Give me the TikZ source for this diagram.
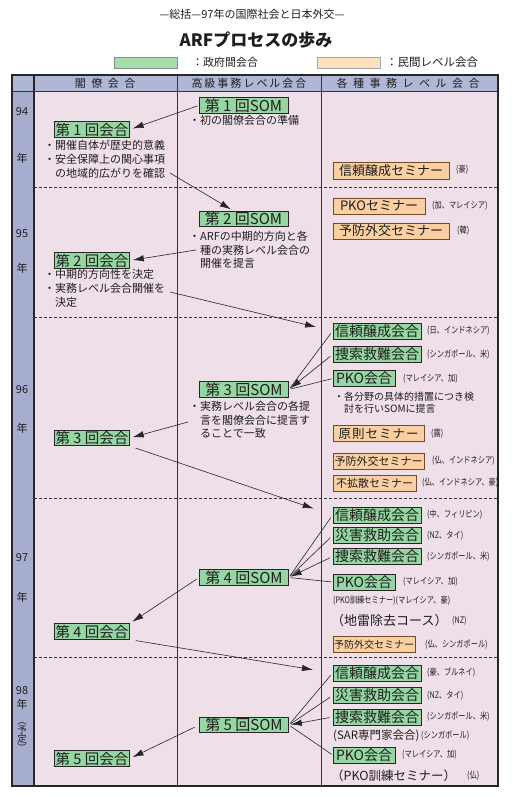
\documentclass[tikz,border=0pt]{standalone}
\usepackage{fontspec}
\usepackage{graphicx}
\setmainfont{Noto Sans CJK JP}
\usetikzlibrary{arrows.meta,calc}
\definecolor{pinkbg}{RGB}{238,223,232}
\definecolor{yearblue}{RGB}{166,173,206}
\definecolor{headblue}{RGB}{176,183,212}
\definecolor{gfill}{RGB}{150,214,162}
\definecolor{ofill}{RGB}{250,208,162}
\definecolor{lgreen}{RGB}{164,222,172}
\definecolor{lpeach}{RGB}{252,224,192}
\definecolor{ink}{RGB}{30,30,30}
\newcommand{\nt}[1]{\scalebox{0.8}[1]{#1}}
\begin{document}
\begin{tikzpicture}[x=1pt,y=-1pt,
  every node/.style={text=ink},
  gbox/.style={draw=black!85, line width=0.7pt, fill=gfill, inner sep=0pt, minimum height=15.5pt, font=\fontsize{14.5}{14.5}\selectfont},
  sbox/.style={draw=black!85, line width=0.7pt, fill=gfill, inner sep=0pt, minimum height=15.5pt, font=\fontsize{15}{15}\selectfont},
  rbox/.style={draw=black!85, line width=0.7pt, fill=gfill, inner sep=0pt, minimum height=16pt, font=\fontsize{14}{14}\selectfont},
  obox/.style={draw=brown!60!black, line width=0.6pt, fill=ofill, inner sep=0pt, minimum height=16pt, font=\fontsize{13}{13}\selectfont},
  note/.style={inner sep=0pt, anchor=west, font=\fontsize{9}{9}\selectfont},
  bul/.style={inner sep=0pt, anchor=north west, align=left, font=\fontsize{11}{14}\selectfont},
  mbul/.style={inner sep=0pt, anchor=north west, align=left, font=\fontsize{11}{13.5}\selectfont},
  arr/.style={-{Latex[length=11pt,width=6.5pt]}, line width=0.6pt, draw=black!85},
  ln/.style={line width=0.6pt, draw=black!85},
  yr/.style={font=\fontsize{11}{11}\selectfont, inner sep=0pt},
  hd/.style={font=\fontsize{11}{11}\selectfont, inner sep=0pt},
  yd/.style={dashed, dash pattern=on 3pt off 2pt, line width=0.7pt, black!80}
]
\useasboundingbox (0,0) rectangle (513,797);
\fill[white] (0,0) rectangle (513,797);

% titles
\node[font=\fontsize{11}{11}\selectfont] (title) at (252,14) {—総括—97年の国際社会と日本外交—};
\node[font=\bfseries\fontsize{17}{17}\selectfont] (main) at (256,40) {ARFプロセスの歩み};

% legend
\node[draw=black!45, fill=lgreen, minimum width=63pt, minimum height=11pt, inner sep=0pt] (lg) at (145.5,62.5) {};
\node[anchor=west, inner sep=0pt, font=\fontsize{11}{11}\selectfont] (lgt) at (192,62.5) {：政府間会合};
\node[draw=black!35, fill=lpeach, minimum width=63pt, minimum height=11pt, inner sep=0pt] (lo) at (348.5,62.5) {};
\node[anchor=west, inner sep=0pt, font=\fontsize{11.5}{11.5}\selectfont] (lot) at (386,62.5) {：民間レベル会合};

% table background
\fill[pinkbg] (12,75) rectangle (498,786);
\fill[yearblue] (12,75) rectangle (34,786);
\fill[headblue] (12,75) rectangle (498,91);
\draw[yd] (34,187) -- (498,187);
\draw[yd] (34,317) -- (498,317);
\draw[yd] (34,498) -- (498,498);
\draw[yd] (34,657) -- (498,657);
\draw[line width=0.7pt, black!80] (177,75) -- (177,786);
\draw[line width=0.7pt, black!80] (321,75) -- (321,786);
\draw[line width=1.3pt, black!85] (34,75) -- (34,786);
\draw[line width=0.9pt, black!80] (12,91) -- (498,91);
\draw[line width=1.3pt, black!85] (12,75) rectangle (498,786);

% headers
\node[hd] (h1) at (105,83) {閣\hspace{5.5pt}僚\hspace{5.5pt}会\hspace{5.5pt}合};
\node[hd] (h2) at (249,83) {高\hspace{2pt}級\hspace{2pt}事\hspace{2pt}務\hspace{2pt}レ\hspace{2pt}ベ\hspace{2pt}ル\hspace{2pt}会\hspace{2pt}合};
\node[hd] (h3) at (408,83) {各\hspace{5.5pt}種\hspace{5.5pt}事\hspace{5.5pt}務\hspace{5.5pt}レ\hspace{5.5pt}ベ\hspace{5.5pt}ル\hspace{5.5pt}会\hspace{5.5pt}合};

% year labels
\node[yr] (y94) at (22,112) {94};
\node[yr] (y94n) at (22,158) {年};
\node[yr] (y95) at (22,234) {95};
\node[yr] (y95n) at (22,268) {年};
\node[yr] (y96) at (22,390) {96};
\node[yr] (y96n) at (22,428) {年};
\node[yr] (y97) at (22,558) {97};
\node[yr] (y97n) at (22,597) {年};
\node[yr] (y98) at (22,691) {98};
\node[yr] (y98n) at (22,704) {年};
\node[inner sep=0pt, align=center, font=\fontsize{9.5}{9}\selectfont] (y98p) at (22,737) {︵\\予\\定\\︶};

% ministerial meetings
\node[gbox, minimum width=75pt] (m1) at (92,129.5) {第 1 回会合};
\node[bul] (m1b) at (44,140) {・開催自体が歴史的意義\\・安全保障上の関心事項\\\hspace{1em}の地域的広がりを確認};
\node[gbox, minimum width=75pt] (m2) at (92,260.5) {第 2 回会合};
\node[bul] (m2b) at (44,269) {・中期的方向性を決定\\・実務レベル会合開催を\\\hspace{1em}決定};
\node[gbox, minimum width=75pt] (m3) at (92,438) {第 3 回会合};
\node[gbox, minimum width=75pt] (m4) at (92,631.5) {第 4 回会合};
\node[gbox, minimum width=75pt] (m5) at (92,758.5) {第 5 回会合};

% SOM
\node[sbox, minimum width=89pt] (s1) at (243.5,105.5) {第 1 回SOM};
\node[mbul] (s1b) at (189,115) {・初の閣僚会合の準備};
\node[sbox, minimum width=89pt] (s2) at (243.5,219) {第 2 回SOM};
\node[mbul] (s2b) at (189,231) {・ARFの中期的方向と各\\\hspace{1em}種の実務レベル会合の\\\hspace{1em}開催を提言};
\node[sbox, minimum width=89pt] (s3) at (244,389.5) {第 3 回SOM};
\node[mbul] (s3b) at (189,401) {・実務レベル会合の各提\\\hspace{1em}言を閣僚会合に提言す\\\hspace{1em}ることで一致};
\node[sbox, minimum width=89pt] (s4) at (244,577.5) {第 4 回SOM};
\node[sbox, minimum width=89pt] (s5) at (244,725) {第 5 回SOM};

% 94
\node[obox, minimum width=116pt, minimum height=17pt] (o94) at (391,170.5) {信頼醸成セミナー};
\node[note] (n94) at (456,170) {\nt{(豪)}};
% 95
\node[obox, minimum width=92pt] (o95a) at (379,206) {PKOセミナー};
\node[note] (n95a) at (432,206) {\nt{(加、マレイシア)}};
\node[obox, minimum width=116pt] (o95b) at (391,231) {予防外交セミナー};
\node[note] (n95b) at (457,231) {\nt{(韓)}};
% 96
\node[rbox, minimum width=88pt] (r96a) at (377,331) {信頼醸成会合};
\node[note] (n96a) at (427,331) {\nt{(日、インドネシア)}};
\node[rbox, minimum width=88pt] (r96b) at (377,354.5) {捜索救難会合};
\node[note] (n96b) at (427,354.5) {\nt{(シンガポール、米)}};
\node[rbox, minimum width=62pt] (r96c) at (364,378.5) {PKO会合};
\node[note] (n96c) at (403,378.5) {\nt{(マレイシア、加)}};
\node[inner sep=0pt, anchor=north west, align=left, font=\fontsize{10}{12}\selectfont] (r96cb) at (334,392) {・各分野の具体的措置につき検\\\hspace{1em}討を行いSOMに提言};
\node[obox, minimum width=91pt, font=\fontsize{12.5}{12.5}\selectfont] (o96a) at (378.5,433.5) {原\hspace{1pt}則\hspace{1pt}セ\hspace{1pt}ミ\hspace{1pt}ナ\hspace{1pt}ー};
\node[note] (n96d) at (431,433.5) {\nt{(露)}};
\node[obox, minimum width=91pt, font=\fontsize{11}{11}\selectfont] (o96b) at (378.5,461) {予防外交セミナー};
\node[note] (n96e) at (432,461) {\nt{(仏、インドネシア)}};
\node[obox, minimum width=83pt, font=\fontsize{11}{11}\selectfont] (o96c) at (374.5,483) {不拡散セミナー};
\node[note] (n96f) at (422,483) {\nt{(仏、インドネシア、豪)}};
% 97
\node[rbox, minimum width=88pt] (r97a) at (377,515) {信頼醸成会合};
\node[note] (n97a) at (427,515) {\nt{(中、フィリピン)}};
\node[rbox, minimum width=88pt] (r97b) at (377,535.5) {災害救助会合};
\node[note] (n97b) at (427,535.5) {\nt{(NZ、タイ)}};
\node[rbox, minimum width=88pt] (r97c) at (377,556.5) {捜索救難会合};
\node[note] (n97c) at (427,556.5) {\nt{(シンガポール、米)}};
\node[rbox, minimum width=62pt] (r97d) at (364,582) {PKO会合};
\node[note] (n97d) at (403,582) {\nt{(マレイシア、加)}};
\node[note] (n97e) at (333,601) {\nt{(PKO訓練セミナー)(マレイシア、豪)}};
\node[note, font=\fontsize{13}{13}\selectfont] (n97f) at (331,621) {（地雷除去コース）};
\node[note] (n97g) at (452,621) {\nt{(NZ)}};
\node[obox, minimum width=82pt, font=\fontsize{10}{10}\selectfont] (o97) at (374,644.5) {予防外交セミナー};
\node[note] (n97h) at (425,644.5) {\nt{(仏、シンガポール)}};
% 98
\node[rbox, minimum width=88pt] (r98a) at (377,673) {信頼醸成会合};
\node[note] (n98a) at (427,673) {\nt{(豪、ブルネイ)}};
\node[rbox, minimum width=88pt] (r98b) at (377,695.5) {災害救助会合};
\node[note] (n98b) at (427,695.5) {\nt{(NZ、タイ)}};
\node[rbox, minimum width=88pt] (r98c) at (377,717) {捜索救難会合};
\node[note] (n98c) at (427,717) {\nt{(シンガポール、米)}};
\node[note, font=\fontsize{11.5}{11.5}\selectfont] (n98d) at (333,736) {(SAR専門家会合)};
\node[note] (n98e) at (421,736) {\nt{(シンガポール)}};
\node[rbox, minimum width=62pt] (r98d) at (364,755) {PKO会合};
\node[note] (n98f) at (402,755) {\nt{(マレイシア、加)}};
\node[note, font=\fontsize{12.5}{12.5}\selectfont] (n98g) at (331,776) {（PKO訓練セミナー）};
\node[note] (n98h) at (467,776) {\nt{(仏)}};

% free ends
\coordinate (c1) at (170,173);
\coordinate (c2) at (196,250);
\coordinate (c3) at (170,292);
\coordinate (c4) at (188,422);

% connectors
\draw[arr, shorten <=1pt, shorten >=3pt] (s1.west) -- (m1.east);
\draw[arr, shorten >=3pt] (c1) -- ([xshift=-10pt]s2.north);
\draw[arr, shorten >=3pt] (c2) -- (m2.east);
\draw[arr, shorten >=17pt] (c3) -- (r96a.west);
\draw[ln, shorten <=3pt, shorten >=2pt] (r96a.west) -- (s3.east);
\draw[arr, shorten <=3pt, shorten >=2pt] (r96b.west) -- (s3.east);
\draw[ln, shorten <=1pt, shorten >=2pt] (r96c.west) -- (s3.east);
\draw[arr, shorten >=3pt] (c4) -- (m3.east);
\draw[arr, shorten <=6pt, shorten >=20pt] (m3.south east) -- (r97a.west);
\draw[ln, shorten <=3pt, shorten >=2pt] (r97a.west) -- (s4.east);
\draw[ln, shorten <=3pt, shorten >=2pt] (r97b.west) -- (s4.east);
\draw[arr, shorten <=3pt, shorten >=2pt] (r97c.west) -- (s4.east);
\draw[ln, shorten <=1pt, shorten >=2pt] (r97d.west) -- (s4.east);
\draw[arr, shorten <=3pt, shorten >=3pt] (s4.west) -- (m4.north east);
\draw[arr, shorten <=6pt, shorten >=20pt] (m4.south east) -- (r98a.west);
\draw[ln, shorten <=3pt, shorten >=2pt] (r98a.west) -- (s5.east);
\draw[ln, shorten <=3pt, shorten >=2pt] (r98b.west) -- (s5.east);
\draw[arr, shorten <=3pt, shorten >=2pt] (r98c.west) -- (s5.east);
\draw[ln, shorten <=1pt, shorten >=2pt] (r98d.west) -- (s5.east);
\draw[arr, shorten <=5pt, shorten >=3pt] (s5.west) -- (m5.east);
\end{tikzpicture}
\end{document}
